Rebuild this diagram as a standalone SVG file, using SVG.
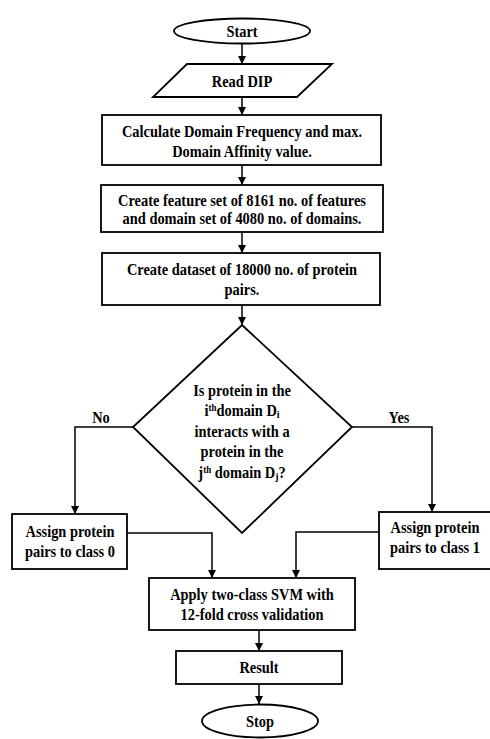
<svg xmlns="http://www.w3.org/2000/svg" width="490" height="739" viewBox="0 0 490 739">
<defs>
<marker id="ah" viewBox="0 0 10 10" refX="10" refY="5" markerWidth="8" markerHeight="8" markerUnits="userSpaceOnUse" orient="auto">
<path d="M0,0 L10,5 L0,10 Z" fill="#000"/>
</marker>
<style>
.s{fill:#fff;stroke:#000;stroke-width:1.8}
.t{font-family:"Liberation Serif","Times New Roman",serif;font-weight:bold;font-size:16px;fill:#000;text-anchor:middle}
.c{fill:none;stroke:#000;stroke-width:1.5;marker-end:url(#ah)}
</style>
</defs>
<rect width="490" height="739" fill="#fff"/>
<g id="connectors">
<path class="c" d="M242,43 V64"/>
<path class="c" d="M242,97 V115"/>
<path class="c" d="M242,165 V185"/>
<path class="c" d="M242,232 V253"/>
<path class="c" d="M242,305 V325"/>
<path class="c" d="M133,427 H75 V514"/>
<path class="c" d="M352,427 H432 V512"/>
<path class="c" d="M127,533 H212 V578"/>
<path class="c" d="M379,532 H296 V578"/>
<path class="c" d="M259,630 V651"/>
<path class="c" d="M259,684 V704"/>
</g>
<g id="start">
<ellipse class="s" cx="242" cy="31" rx="68" ry="12.5"/>
<g transform="translate(242 0) scale(0.9 1)"><text class="t" x="0" y="37">Start</text></g>
</g>
<g id="read">
<polygon class="s" points="187,64 332,64 297,97 153,97"/>
<g transform="translate(242 0) scale(0.9 1)"><text class="t" x="0" y="87">Read DIP</text></g>
</g>
<g id="calc">
<rect class="s" x="102" y="115" width="279" height="50"/>
<g transform="translate(242 0) scale(0.9 1)">
<text class="t" x="0" y="137">Calculate Domain Frequency and max.</text>
<text class="t" x="0" y="157">Domain Affinity value.</text>
</g>
</g>
<g id="feature">
<rect class="s" x="101" y="185" width="282" height="47"/>
<g transform="translate(242 0) scale(0.9 1)">
<text class="t" x="0" y="206">Create feature set of 8161 no. of features</text>
<text class="t" x="0" y="224">and domain set of 4080 no. of domains.</text>
</g>
</g>
<g id="dataset">
<rect class="s" x="102" y="253" width="278" height="52"/>
<g transform="translate(242 0) scale(0.9 1)">
<text class="t" x="0" y="275">Create dataset of 18000 no. of protein</text>
<text class="t" x="0" y="295">pairs.</text>
</g>
</g>
<g id="decision">
<polygon class="s" points="242,325 352,427 242,533 133,427"/>
<g transform="translate(242 0) scale(0.9 1)">
<text class="t" x="0" y="396">Is protein in the</text>
<text class="t" x="0" y="416">i<tspan font-size="10" dy="-5">th</tspan><tspan dy="5">domain D</tspan><tspan font-size="11" dy="2">i</tspan></text>
<text class="t" x="0" y="437">interacts with a</text>
<text class="t" x="0" y="457">protein in the</text>
<text class="t" x="0" y="478">j<tspan font-size="10" dy="-5">th</tspan><tspan dy="5"> domain D</tspan><tspan font-size="11" dy="2">j</tspan><tspan dy="-2">?</tspan></text>
</g>
<g transform="translate(101 0) scale(0.9 1)"><text class="t" x="0" y="423">No</text></g>
<g transform="translate(399 0) scale(0.9 1)"><text class="t" x="0" y="423">Yes</text></g>
</g>
<g id="class0">
<rect class="s" x="12" y="514" width="115" height="55"/>
<g transform="translate(70 0) scale(0.9 1)">
<text class="t" x="0" y="537">Assign protein</text>
<text class="t" x="0" y="557">pairs to class 0</text>
</g>
</g>
<g id="class1">
<rect class="s" x="379" y="512" width="115" height="57"/>
<g transform="translate(435 0) scale(0.9 1)">
<text class="t" x="0" y="533">Assign protein</text>
<text class="t" x="0" y="553">pairs to class 1</text>
</g>
</g>
<g id="svm">
<rect class="s" x="149" y="578" width="206" height="52"/>
<g transform="translate(252 0) scale(0.9 1)">
<text class="t" x="0" y="600">Apply two-class SVM with</text>
<text class="t" x="0" y="620">12-fold cross validation</text>
</g>
</g>
<g id="result">
<rect class="s" x="176" y="651" width="166" height="33"/>
<g transform="translate(259 0) scale(0.9 1)"><text class="t" x="0" y="673">Result</text></g>
</g>
<g id="stop">
<ellipse class="s" cx="260" cy="721" rx="58" ry="16.5"/>
<g transform="translate(260 0) scale(0.9 1)"><text class="t" x="0" y="727">Stop</text></g>
</g>
</svg>
